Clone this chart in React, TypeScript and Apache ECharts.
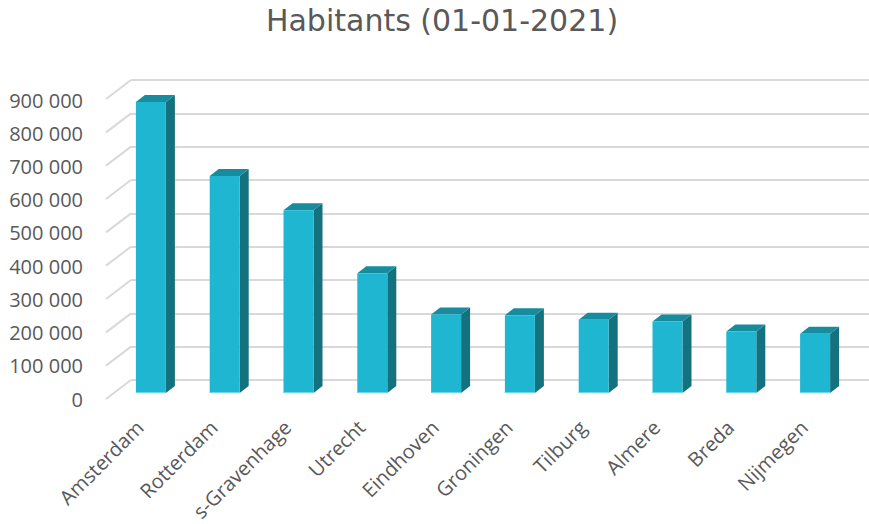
import React, { useEffect, useRef } from 'react';
import * as echarts from 'echarts';

const chartTitle = 'Habitants (01-01-2021)';
const categories = ['Amsterdam', 'Rotterdam', 's-Gravenhage', 'Utrecht', 'Eindhoven', 'Groningen', 'Tilburg', 'Almere', 'Breda', 'Nijmegen'];
const population = [872779, 651157, 548320, 359370, 235691, 233218, 220000, 214715, 184403, 177818];
const yTicks = [0, 100000, 200000, 300000, 400000, 500000, 600000, 700000, 800000, 900000];
const yTickLabels = ['0', '100 000', '200 000', '300 000', '400 000', '500 000', '600 000', '700 000', '800 000', '900 000'];

const FONT = '"Open Sans", "Noto Sans", sans-serif';
const TITLE_FONT = '"DejaVu Sans", "Open Sans", sans-serif';
const TEXT = '#595959';
const GRID = '#d9d9d9';

export default function App() {
  const ref = useRef<HTMLDivElement>(null);
  useEffect(() => {
    document.body.style.margin = '0';
    const chart = echarts.init(ref.current!, null, { renderer: 'svg' });
    const BW = 30, DX = 9, DY = -7;
    chart.setOption({
      animation: false,
      graphic: [
        {
          type: 'text', x: 442, y: 20, z: 10,
          style: { text: chartTitle, fontSize: 30, fontFamily: TITLE_FONT, fill: TEXT, align: 'center', verticalAlign: 'middle' },
        },
      ],
      grid: [
        { left: 131, top: 80, width: 738, height: 300 },
        { left: 106, top: 100, width: 738, height: 299 },
        { left: 114, top: 93, width: 738, height: 300 },
        { left: 103, top: 93, width: 738, height: 300 },
      ],
      xAxis: [
        { gridIndex: 0, type: 'category', data: categories, show: false },
        { gridIndex: 1, type: 'category', data: categories, show: false },
        { gridIndex: 2, type: 'category', data: categories, show: false },
        {
          gridIndex: 3, type: 'category', data: categories,
          axisLine: { show: false }, axisTick: { show: false },
          axisLabel: { rotate: 45, margin: 31, fontSize: 20, color: TEXT, fontFamily: FONT, interval: 0 },
        },
      ],
      yAxis: [
        {
          gridIndex: 0, type: 'value', min: 0, max: 900000, interval: 100000,
          axisLabel: { show: false }, axisLine: { show: false }, axisTick: { show: false },
          splitLine: { show: true, lineStyle: { color: GRID, width: 2 } },
        },
        {
          gridIndex: 1, type: 'value', min: 0, max: 900000, interval: 100000,
          axisLine: { show: false }, axisTick: { show: false }, splitLine: { show: false },
          axisLabel: {
            margin: 23, fontSize: 20, color: TEXT, fontFamily: FONT,
            formatter: (v: number) => yTickLabels[yTicks.indexOf(v)] ?? '',
          },
        },
        { gridIndex: 2, type: 'value', min: 0, max: 900000, show: false, splitLine: { show: false } },
        { gridIndex: 3, type: 'value', min: 0, max: 900000, show: false, splitLine: { show: false } },
      ],
      series: [
        {
          type: 'custom', xAxisIndex: 0, yAxisIndex: 0, z: 1, silent: true,
          data: yTicks.map((v) => [0, v]),
          renderItem: (params: any, api: any) => {
            const y = api.coord([0, api.value(1)])[1];
            const x = params.coordSys.x;
            return {
              type: 'line',
              shape: { x1: x - 25, y1: y + 19, x2: x, y2: y },
              style: { stroke: GRID, lineWidth: 2 },
            };
          },
        },
        {
          type: 'custom', xAxisIndex: 2, yAxisIndex: 2, z: 5, clip: false,
          data: population.map((v, i) => [i, v]),
          renderItem: (params: any, api: any) => {
            const i = api.value(0);
            const v = api.value(1);
            const p0 = api.coord([i, 0]);
            const p1 = api.coord([i, v]);
            const xl = p0[0] - BW / 2;
            const xr = xl + BW;
            const yb = p0[1];
            const yt = p1[1];
            return {
              type: 'group',
              children: [
                {
                  type: 'polygon',
                  shape: { points: [[xr, yb], [xr + DX, yb + DY], [xr + DX, yt + DY], [xr, yt]] },
                  style: { fill: '#14727f' },
                },
                {
                  type: 'polygon',
                  shape: { points: [[xl, yt], [xl + DX, yt + DY], [xr + DX, yt + DY], [xr, yt]] },
                  style: { fill: '#178c9e' },
                },
                {
                  type: 'rect',
                  shape: { x: xl, y: yt, width: BW, height: yb - yt },
                  style: { fill: '#1fb6d1' },
                },
                {
                  type: 'line',
                  shape: { x1: xl, y1: yb - 0.5, x2: xr, y2: yb - 0.5 },
                  style: { stroke: '#6fd6e8', lineWidth: 1 },
                },
              ],
            };
          },
        },
      ],
    });
    return () => chart.dispose();
  }, []);
  return <div ref={ref} style={{ width: 869, height: 524 }} />;
}
